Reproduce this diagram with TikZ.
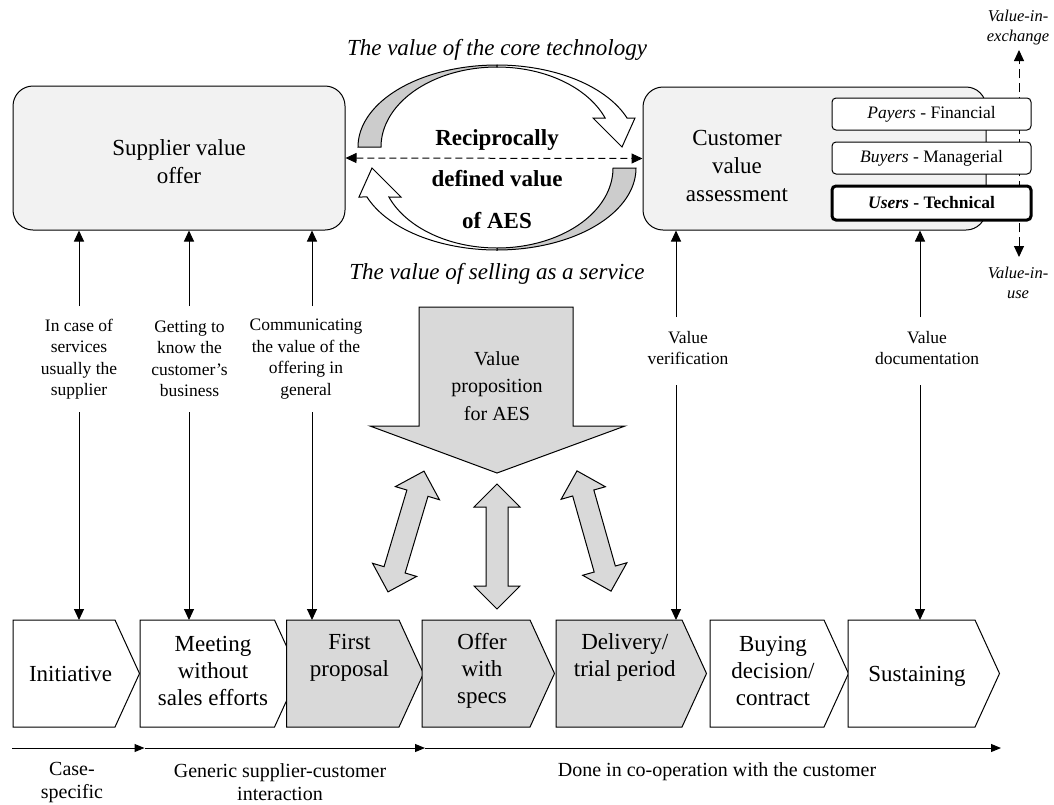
\documentclass[tikz,border=0pt]{standalone}
\usepackage{fontspec}
\setmainfont{Liberation Serif}
\usetikzlibrary{arrows.meta,calc}
\definecolor{boxgray}{HTML}{F2F2F2}
\definecolor{lgray}{HTML}{D9D9D9}
\definecolor{arrgray}{HTML}{CCCCCC}
\newcommand\FntMain{\fontsize{23}{28}\selectfont}
\newcommand\FntChev{\fontsize{23}{27}\selectfont}
\newcommand\FntSmall{\fontsize{17.5}{21.5}\selectfont}
\newcommand\FntVal{\fontsize{16.5}{20}\selectfont}
\newcommand\FntBot{\fontsize{20}{23}\selectfont}
\newcommand\CurvArr{%
  \filldraw[fill=arrgray] plot[domain=180:90,samples=50] ({497+139*cos(\x)},{147-82*sin(\x)})
    -- plot[domain=90:180,samples=50] ({497+116*cos(\x)},{147-80*sin(\x)}) -- cycle;
  \filldraw[fill=white] plot[domain=90:20.7,samples=50] ({497+139*cos(\x)},{147-82*sin(\x)})
    -- (635,118) -- (622,147) -- (593,118)
    -- plot[domain=21.25:90,samples=50] ({497+116*cos(\x)},{147-80*sin(\x)}) -- cycle;
}
\newcommand\DblArr[3]{%
  \begin{scope}[shift={#1}, rotate=#2]
    \filldraw[fill=lgray] ({-#3/2},0) -- ({-#3/2+23},23) -- ({-#3/2+23},11) -- ({#3/2-23},11)
      -- ({#3/2-23},23) -- ({#3/2},0) -- ({#3/2-23},-23) -- ({#3/2-23},-11)
      -- ({-#3/2+23},-11) -- ({-#3/2+23},-23) -- cycle;
  \end{scope}}
\newcommand\Chev[3]{%
  \filldraw[fill=#3] (#1,620) -- (#2,620) -- ({#2+24.5},673.5) -- (#2,727) -- (#1,727) -- cycle;}
\begin{document}
\begin{tikzpicture}[x=1pt,y=-1pt,line width=1pt,
  bigbox/.style={draw, rounded corners=20pt, fill=boxgray},
  subbox/.style={draw, fill=white, rounded corners=4pt, minimum width=199pt, minimum height=32pt, inner sep=0pt, font=\FntSmall},
  conn/.style={-{Triangle[length=11pt,width=10pt]}},
  dconn/.style={{Triangle[length=11pt,width=10pt]}-{Triangle[length=11pt,width=10pt]}, dash pattern=on 7pt off 4pt},
  vconn/.style={{Triangle[length=11pt,width=10pt]}-{Triangle[length=11pt,width=10pt]}, dash pattern=on 9pt off 5pt},
  tl/.style={-{Triangle[length=10pt,width=8pt]}},
  lab/.style={align=center, font=\FntSmall, inner sep=0pt},
  chevtxt/.style={align=center, font=\FntChev, inner sep=0pt},
  bot/.style={align=center, font=\FntBot, inner sep=0pt}]
\useasboundingbox (0,0) rectangle (1054,804);

% top boxes
\node[bigbox, minimum width=332pt, minimum height=144pt] (sup) at (179,158) {};
\node[align=center, font=\FntMain, inner sep=0pt] (suptxt) at (179,162) {Supplier value\\offer};
\node[bigbox, minimum width=343pt, minimum height=143pt] (cust) at (814.5,158.5) {};
\node[align=center, font=\FntMain, inner sep=0pt] (custtxt) at (737,166) {Customer\\value\\assessment};

% value-in dashed arrow
\coordinate (vtop) at (1019,50);
\coordinate (vbot) at (1019,257);
\draw[vconn] (vbot) -- (vtop);
\node[align=center, font=\FntVal\itshape, inner sep=0pt] (vie) at (1018,28) {Value-in-\\exchange};
\node[align=center, font=\FntVal\itshape, inner sep=0pt] (viu) at (1018,283) {Value-in-\\use};

\node[subbox] (pay) at (931.5,114) {\textit{Payers} - Financial};
\node[subbox] (buy) at (931.5,158) {\textit{Buyers} - Managerial};
\node[subbox, line width=3pt, minimum height=34pt] (usr) at (931.5,203) {\textbf{\textit{Users} - Technical}};

% curved arrows
\CurvArr
\begin{scope}[rotate around={180:(497,157.5)}]
\CurvArr
\end{scope}
\draw[dconn] (sup.east) -- (cust.west);
\node[align=center, font=\fontsize{23}{41.5}\selectfont\bfseries, inner sep=0pt] (recip) at (497,179) {Reciprocally\\defined value\\of AES};
\node[font=\FntMain\itshape, inner sep=0pt] (core) at (497,50) {The value of the core technology};
\node[font=\FntMain\itshape, inner sep=0pt] (serv) at (497,274) {The value of selling as a service};

% big arrow
\filldraw[fill=lgray] (419,307) -- (573,307) -- (573,426) -- (625,426) -- (497,473) -- (370,426) -- (419,426) -- cycle;
\node[align=center, font=\fontsize{20}{27.5}\selectfont, inner sep=0pt] (vp) at (497,386) {Value\\proposition\\for AES};

% double arrows
\DblArr{(497,546.5)}{90}{125}
\DblArr{(406,531.5)}{73.4}{126}
\DblArr{(594,531)}{105.8}{125}

% chevrons
\Chev{13}{115}{white}
\Chev{140}{274.5}{white}
\Chev{286.5}{399}{lgray}
\Chev{422}{530}{lgray}
\Chev{556}{682}{lgray}
\Chev{710}{824}{white}
\Chev{848}{975}{white}
\coordinate (ctop) at (0,620);
\node[chevtxt] (ch1) at (70.6,674) {Initiative};
\node[chevtxt] (ch2) at (213,671) {Meeting\\without\\sales efforts};
\node[chevtxt] (ch3) at (349.5,657.5) {First\\proposal};
\node[chevtxt] (ch4) at (482,671) {Offer\\with\\specs};
\node[chevtxt] (ch5) at (624.7,657.5) {Delivery/\\trial period};
\node[chevtxt] (ch6) at (773,671) {Buying\\decision/\\contract};
\node[chevtxt] (ch7) at (917,676) {Sustaining};

% labels and vertical connectors
\node[lab] (lab1) at (79,359) {In case of\\services\\usually the\\supplier};
\node[lab] (lab2) at (189.5,359) {Getting to\\know the\\customer’s\\business};
\node[lab] (lab3) at (306,359) {Communicating\\the value of the\\offering in\\general};
\node[lab] (lab4) at (688,348) {Value\\verification};
\node[lab] (lab5) at (927,348) {Value\\documentation};

\coordinate (s1u) at (79,306);   \coordinate (s1d) at (79,412);
\coordinate (s2u) at (189,306);  \coordinate (s2d) at (189,412);
\coordinate (s3u) at (312,306);  \coordinate (s3d) at (312,412);
\coordinate (r1u) at (676,317);  \coordinate (r1d) at (676,385);
\coordinate (r2u) at (920,317);  \coordinate (r2d) at (920,385);
\foreach \c in {s1,s2,s3}{
  \draw[conn] (\c u) -- (\c u |- sup.south);
  \draw[conn] (\c d) -- (\c d |- ctop);
}
\foreach \c in {r1,r2}{
  \draw[conn] (\c u) -- (\c u |- cust.south);
  \draw[conn] (\c d) -- (\c d |- ctop);
}

% timeline
\coordinate (t0) at (12,748);
\coordinate (t1) at (144.5,748);
\coordinate (t2) at (425,748);
\coordinate (t3) at (1001,748);
\draw[tl] (t0) -- (t1);
\draw[tl] (t1) -- (t2);
\draw[tl] (t2) -- (t3);
\node[bot] (b1) at (72,782) {Case-\\specific};
\node[bot] (b2) at (280,782) {Generic supplier-customer\\interaction};
\node[bot] (b3) at (717,772) {Done in co-operation with the customer};
\end{tikzpicture}
\end{document}
